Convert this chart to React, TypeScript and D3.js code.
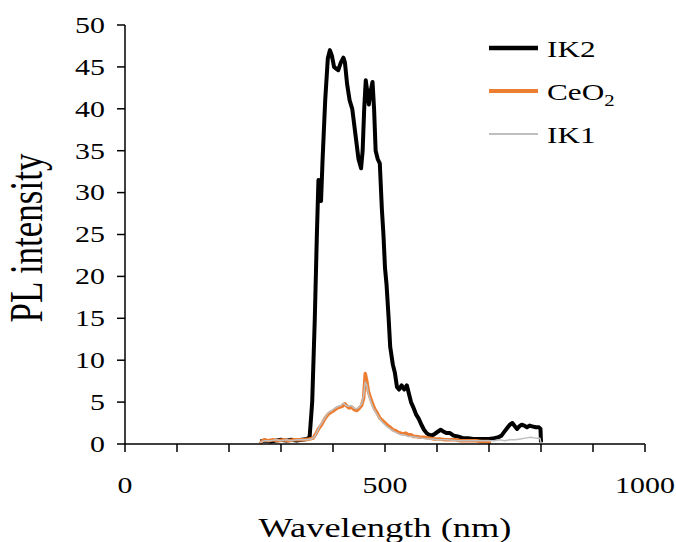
import React from "react";
import * as d3 from "d3";

const ik2X = [260,270,280,290,300,310,320,330,340,350,355,360,365,369,372,375,377,380,385,390,394,398,402,406,410,415,420,423,427,432,437,441,445,449,454,457,460,463,466,469,472,476,479,482,486,490,494,497,500,503,507,510,515,519,523,527,532,537,542,546,550,555,560,565,570,575,580,587,593,600,607,612,618,625,632,640,650,660,670,680,690,700,710,718,724,730,735,740,745,750,754,758,763,768,773,778,783,790,796,799,800];
const ik2Y = [0.3,0.4,0.3,0.4,0.5,0.4,0.5,0.4,0.5,0.6,0.8,5,15,25,31.5,31,29,34,41,46,47,46.3,45,44.8,44.6,45.5,46.1,45.5,43,41,40,38,36,34,32.9,35,40,43.4,42,40.5,42,43.2,40,35,34,33.5,28,25,21,19,15,11.6,9.5,8.5,6.8,6.5,7,6.5,7,6,5,4.3,3.5,3,2.3,1.7,1.3,1.0,1.1,1.4,1.7,1.5,1.3,1.3,1.0,0.9,0.7,0.7,0.6,0.6,0.6,0.6,0.7,0.8,1.0,1.5,1.9,2.3,2.5,2.1,1.8,2.1,2.3,2.2,2.0,2.2,2.1,2.0,2.0,1.8,0.2];

const ceX = [260,263,267,275,285,295,305,315,325,335,345,355,362,367,372,378,384,390,396,402,408,413,418,423,427,431,436,441,446,451,455,459,462,465,468,472,476,480,485,490,495,500,505,510,515,520,525,530,535,540,545,550,555,560,567,575,585,595,605,615,625,635,645,655,665,675,685,695,700,701];
const ceY = [0,0.3,0.5,0.4,0.5,0.4,0.5,0.4,0.5,0.5,0.5,0.6,0.7,1.2,1.8,2.3,3.0,3.5,3.8,4.0,4.3,4.4,4.5,4.8,4.5,4.3,4.4,4.1,4.0,4.3,4.6,5.5,8.4,7.5,6.3,5.5,4.8,4.2,3.7,3.1,2.8,2.5,2.2,2.0,1.7,1.6,1.4,1.3,1.2,1.3,1.1,1.1,0.9,0.9,0.8,0.8,0.7,0.6,0.6,0.5,0.5,0.5,0.4,0.4,0.4,0.4,0.3,0.3,0.3,0];

const ik1X = [260,263,270,280,290,300,310,320,330,340,350,358,364,369,374,380,386,392,398,404,410,415,420,425,430,435,440,445,450,455,459,462,465,468,472,476,480,485,490,495,500,505,510,515,520,525,530,535,540,545,550,560,570,580,590,600,620,640,660,680,700,710,720,730,740,750,760,770,780,790,798,800];
const ik1Y = [0.1,0.3,0.4,0.4,0.5,0.4,0.5,0.4,0.5,0.5,0.5,0.6,0.8,1.4,2.1,2.7,3.3,3.8,4.0,4.3,4.5,4.6,4.9,4.6,4.5,4.6,4.3,4.2,4.4,4.8,5.8,7.4,7.0,6.0,5.2,4.5,4.0,3.5,3.0,2.6,2.3,2.0,1.8,1.6,1.4,1.3,1.1,1.1,1.0,0.9,0.9,0.8,0.7,0.6,0.6,0.5,0.5,0.4,0.4,0.4,0.4,0.4,0.5,0.4,0.5,0.5,0.6,0.7,0.8,0.7,0.7,0.1];

const yTicks = [0,5,10,15,20,25,30,35,40,45,50];
const xMinorTicks = [0,100,200,300,400,500,600,700,800,900,1000];
const xLabels = [0,500,1000];

const seriesNames = ["IK2", "CeO", "IK1"];
const seriesColors = ["#000000", "#ED7D31", "#BFBFBF"];
const seriesWidths = [4, 3.5, 1.5];

const FONT = "'Liberation Serif', 'Times New Roman', serif";
const S = 1.3; // horizontal stretch of the reference's text

export default function App() {
  const x = d3.scaleLinear().domain([0, 1000]).range([125, 645]);
  const y = d3.scaleLinear().domain([0, 50]).range([444, 25]);
  const toPts = (xs: number[], ys: number[]) => xs.map((v, i) => [v, ys[i]] as [number, number]);
  const line = d3.line<[number, number]>().x(d => x(d[0])).y(d => y(d[1]));
  const data = [toPts(ik2X, ik2Y), toPts(ceX, ceY), toPts(ik1X, ik1Y)];
  const legendY = [48, 91, 134];

  return (
    <svg width={676} height={542} style={{ position: "absolute", left: 0, top: 0, background: "#fff" }} fontFamily={FONT}>
      {data.map((d, i) => (
        <path key={i} d={line(d) || ""} fill="none" stroke={seriesColors[i]} strokeWidth={seriesWidths[i]} strokeLinejoin="round" />
      ))}
      <line x1={x(0)} x2={x(0)} y1={y(50)} y2={y(0)} stroke="#000" strokeWidth={1.5} />
      <line x1={x(0)} x2={x(1000)} y1={y(0)} y2={y(0)} stroke="#000" strokeWidth={1.5} />
      {yTicks.map(t => (
        <g key={"y" + t}>
          <line x1={x(0) - 8} x2={x(0)} y1={y(t)} y2={y(t)} stroke="#000" strokeWidth={1.5} />
          <text transform={`translate(105,${y(t)}) scale(${S},1)`} dy="0.34em" textAnchor="end" fontSize={23} fill="#000">{t}</text>
        </g>
      ))}
      {xMinorTicks.map(t => (
        <line key={"x" + t} x1={x(t)} x2={x(t)} y1={y(0)} y2={y(0) + 8} stroke="#000" strokeWidth={1.5} />
      ))}
      {xLabels.map(t => (
        <text key={"xl" + t} transform={`translate(${x(t)},493) scale(${S},1)`} textAnchor="middle" fontSize={23} fill="#000">{t}</text>
      ))}
      <text transform={`translate(385,537) scale(${S},1)`} textAnchor="middle" fontSize={28} fill="#000">Wavelength (nm)</text>
      <text transform={`translate(42,238) scale(${S},1) rotate(-90)`} textAnchor="middle" fontSize={35} fill="#000">PL intensity</text>
      {seriesNames.map((n, i) => (
        <g key={"lg" + n}>
          <line x1={489} x2={538} y1={legendY[i]} y2={legendY[i]} stroke={seriesColors[i]} strokeWidth={seriesWidths[i] + 0.5} />
          <text transform={`translate(547,${legendY[i] + 8.5}) scale(${S},1)`} fontSize={24} fill="#000">
            {n}
            {i === 1 ? <tspan fontSize={16} dy="6">2</tspan> : null}
          </text>
        </g>
      ))}
    </svg>
  );
}
